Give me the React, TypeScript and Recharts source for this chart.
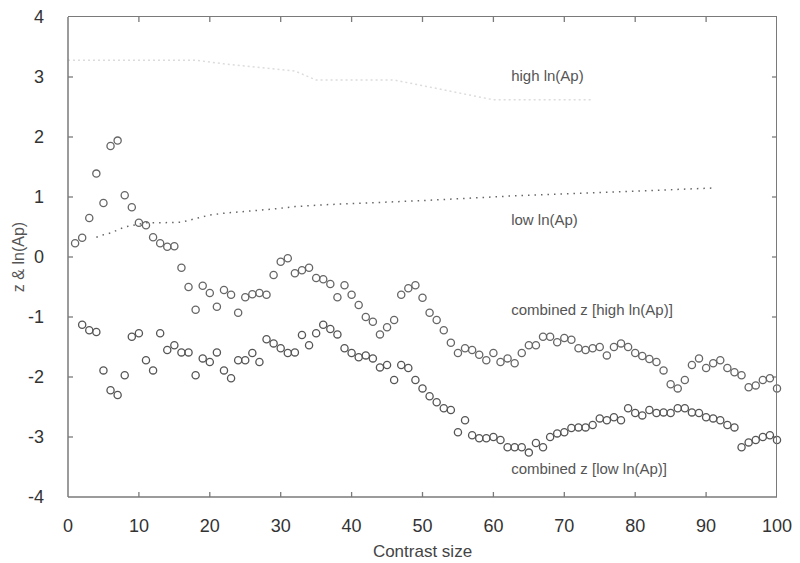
import React from 'react'
import { ComposedChart, Scatter, Line, XAxis, YAxis, ReferenceDot } from 'recharts'

// contrast sizes for each circle series
const UPPER_X = Array.from({ length: 100 }, (_, i) => i + 1)
const LOWER_X = Array.from({ length: 99 }, (_, i) => i + 2)

// combined z [high ln(Ap)]
const UPPER_Z = [
  0.23, 0.32, 0.65, 1.39, 0.9, 1.85, 1.94, 1.03, 0.83, 0.57,
  0.53, 0.33, 0.23, 0.17, 0.18, -0.18, -0.5, -0.88, -0.48, -0.6,
  -0.83, -0.55, -0.63, -0.93, -0.67, -0.62, -0.6, -0.63, -0.3, -0.08,
  -0.02, -0.27, -0.22, -0.18, -0.35, -0.37, -0.45, -0.67, -0.47, -0.63,
  -0.8, -1.0, -1.08, -1.29, -1.17, -1.05, -0.63, -0.52, -0.47, -0.68,
  -0.93, -1.05, -1.22, -1.43, -1.6, -1.52, -1.55, -1.63, -1.72, -1.6,
  -1.75, -1.69, -1.77, -1.6, -1.47, -1.47, -1.33, -1.33, -1.42, -1.35,
  -1.38, -1.52, -1.55, -1.52, -1.5, -1.64, -1.5, -1.44, -1.5, -1.6,
  -1.65, -1.7, -1.75, -1.89, -2.12, -2.19, -2.05, -1.8, -1.69, -1.85,
  -1.77, -1.72, -1.85, -1.92, -1.97, -2.17, -2.14, -2.05, -2.02, -2.19,
]

// combined z [low ln(Ap)]
const LOWER_Z = [
  -1.13, -1.22, -1.25, -1.89, -2.22, -2.3, -1.97, -1.33, -1.27,
  -1.72, -1.89, -1.27, -1.55, -1.47, -1.59, -1.59, -1.97, -1.69, -1.75,
  -1.59, -1.89, -2.02, -1.72, -1.72, -1.6, -1.75, -1.37, -1.44, -1.52,
  -1.6, -1.59, -1.3, -1.47, -1.27, -1.13, -1.2, -1.29, -1.52, -1.6,
  -1.67, -1.64, -1.69, -1.84, -1.8, -2.05, -1.8, -1.85, -2.05, -2.19,
  -2.32, -2.42, -2.52, -2.55, -2.92, -2.72, -2.97, -3.02, -3.02, -3.0,
  -3.05, -3.17, -3.17, -3.17, -3.26, -3.1, -3.17, -3.0, -2.94, -2.92,
  -2.85, -2.84, -2.84, -2.8, -2.69, -2.72, -2.67, -2.72, -2.52, -2.6,
  -2.64, -2.55, -2.6, -2.59, -2.6, -2.52, -2.52, -2.59, -2.6, -2.67,
  -2.69, -2.72, -2.8, -2.84, -3.17, -3.09, -3.05, -3.0, -2.97, -3.05,
]

// dotted ln(Ap) curves
const LOW_LN_X = [4, 5, 6, 8, 11, 13, 16, 20, 22, 26, 29, 32, 36, 46, 50, 63, 74, 91]
const LOW_LN = [0.33, 0.37, 0.4, 0.5, 0.57, 0.57, 0.58, 0.7, 0.73, 0.77, 0.8, 0.84, 0.87, 0.92, 0.94, 1.02, 1.07, 1.15]
const HIGH_LN_X = [0, 18, 22, 32, 35, 46, 60, 74]
const HIGH_LN = [3.28, 3.28, 3.22, 3.1, 2.95, 2.95, 2.62, 2.62]

const X_TICKS = [0, 10, 20, 30, 40, 50, 60, 70, 80, 90, 100]
const Y_TICKS = [-4, -3, -2, -1, 0, 1, 2, 3, 4]
const X_MIN = 0
const X_MAX = 100
const Y_MIN = -4
const Y_MAX = 4

const NOTES = [
  { x: 62.5, y: 3.03, text: 'high ln(Ap)' },
  { x: 62.5, y: 0.62, text: 'low ln(Ap)' },
  { x: 62.5, y: -0.87, text: 'combined z [high ln(Ap)]' },
  { x: 62.5, y: -3.52, text: 'combined z [low ln(Ap)]' },
]

const upper = UPPER_X.map((x, i) => ({ x, y: UPPER_Z[i] }))
const lower = LOWER_X.map((x, i) => ({ x, y: LOWER_Z[i] }))
const lowLn = LOW_LN_X.map((x, i) => ({ x, y: LOW_LN[i] }))
const highLn = HIGH_LN_X.map((x, i) => ({ x, y: HIGH_LN[i] }))

// inward tick marks on all four sides of the box
const frameTicks = [
  ...X_TICKS.slice(1, -1).flatMap((t) => [
    { x: t, y: Y_MIN, dir: 'up' },
    { x: t, y: Y_MAX, dir: 'down' },
  ]),
  ...Y_TICKS.slice(1, -1).flatMap((t) => [
    { x: X_MIN, y: t, dir: 'right' },
    { x: X_MAX, y: t, dir: 'left' },
  ]),
]

const FONT = '"Liberation Sans", Arial, sans-serif'
const AXIS = '#7a7a7a'
const TICK_LEN = 5
const MARGIN = { top: 17, right: 23, bottom: 0, left: 0 }
const Y_AXIS_W = 68
const X_AXIS_H = 66
const W = 800
const H = 563

const ring = (color: string) => (p: any) => (
  <circle cx={p.cx} cy={p.cy} r={3.6} fill="none" stroke={color} strokeWidth={1.3} />
)

const tickMark = (p: any) => {
  const d = p.dir ?? p.payload?.dir
  const dx = d === 'right' ? TICK_LEN : d === 'left' ? -TICK_LEN : 0
  const dy = d === 'up' ? -TICK_LEN : d === 'down' ? TICK_LEN : 0
  return <path d={`M${p.cx},${p.cy}l${dx},${dy}`} stroke={AXIS} strokeWidth={1.3} fill="none" />
}

export default function App() {
  return (
    <div style={{ position: 'absolute', left: 0, top: 0, width: W, height: H, background: '#fff', fontFamily: FONT }}>
      <ComposedChart width={W} height={H} margin={MARGIN}>
        <XAxis
          xAxisId="b" dataKey="x" type="number" domain={[X_MIN, X_MAX]} ticks={X_TICKS}
          height={X_AXIS_H} tickLine={false} tickMargin={16}
          stroke={AXIS} strokeWidth={1.5}
          tick={{ fill: '#333', fontSize: 18, fontFamily: FONT }}
          label={{ value: 'Contrast size', position: 'insideBottom', offset: 6, fill: '#444', fontSize: 17, fontFamily: FONT }}
        />
        <YAxis
          yAxisId="l" type="number" domain={[Y_MIN, Y_MAX]} ticks={Y_TICKS} width={Y_AXIS_W}
          tickLine={false} tickMargin={18} stroke={AXIS} strokeWidth={1.5}
          tick={{ fill: '#333', fontSize: 18, fontFamily: FONT }}
          label={{ value: 'z & ln(Ap)', angle: -90, position: 'center', dx: -16, fill: '#555', fontSize: 16, fontFamily: FONT }}
        />
        <Scatter xAxisId="b" yAxisId="l" data={frameTicks} dataKey="y" shape={tickMark} isAnimationActive={false} />
        <Line
          xAxisId="b" yAxisId="l" data={highLn} dataKey="y" type="linear"
          stroke="#dcdcdc" strokeWidth={1.5} strokeDasharray="2 3" dot={false} isAnimationActive={false}
        />
        <Line
          xAxisId="b" yAxisId="l" data={lowLn} dataKey="y" type="linear"
          stroke="#666" strokeWidth={1.5} strokeDasharray="1.5 5" dot={false} isAnimationActive={false}
        />
        <Scatter xAxisId="b" yAxisId="l" data={upper} dataKey="y" shape={ring('#666')} isAnimationActive={false} />
        <Scatter xAxisId="b" yAxisId="l" data={lower} dataKey="y" shape={ring('#555')} isAnimationActive={false} />
        {NOTES.map((n) => (
          <ReferenceDot
            key={n.text} xAxisId="b" yAxisId="l" x={n.x} y={n.y} r={0}
            shape={(p: any) => (
              <text x={p.cx} y={p.cy} dominantBaseline="central" fill="#555" fontSize={15} fontFamily={FONT}>
                {n.text}
              </text>
            )}
          />
        ))}
      </ComposedChart>
      {/* top and right edges of the plot box */}
      <div
        style={{
          position: 'absolute',
          left: MARGIN.left + Y_AXIS_W,
          top: MARGIN.top - 1,
          width: W - MARGIN.left - MARGIN.right - Y_AXIS_W,
          height: H - MARGIN.top - MARGIN.bottom - X_AXIS_H + 1,
          borderTop: `1.5px solid ${AXIS}`,
          borderRight: `1.5px solid ${AXIS}`,
          boxSizing: 'border-box',
          pointerEvents: 'none',
        }}
      />
    </div>
  )
}
